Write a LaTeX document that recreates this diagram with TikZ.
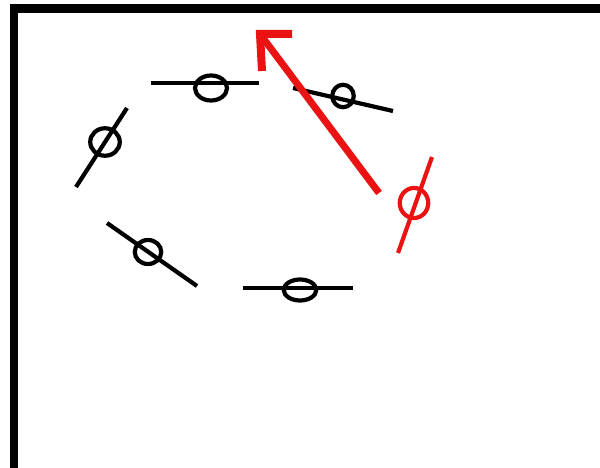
\documentclass[tikz,border=0pt]{standalone}
\usetikzlibrary{shapes.geometric}
\definecolor{penred}{RGB}{234,18,18}
\begin{document}
\begin{tikzpicture}[x=1pt,y=-1pt,
  blk/.style={line width=4.2pt,black},
  rd/.style={line width=4.2pt,penred},
  ring/.style={ellipse,draw,line width=4.2pt,inner sep=0pt}]
\useasboundingbox (0,0) rectangle (600,468);
\fill[white] (0,0) rectangle (600,468);
% frame
\draw[line width=8.5pt] (10,8.5) -- (600,8.5);
\draw[line width=8pt] (14,4.5) -- (14,468);
% top element
\coordinate (a1) at (151,83);
\coordinate (a2) at (259,83);
\draw[blk] (a1) -- (a2);
\node[ring,minimum width=32pt,minimum height=25pt] (e1) at (211,88) {};
% top-right element
\coordinate (b1) at (293,88);
\coordinate (b2) at (393,111);
\draw[blk] (b1) -- (b2);
\node[ring,minimum width=21.5pt,minimum height=22.5pt] (e2) at (343,96) {};
% left element
\coordinate (c1) at (127,108);
\coordinate (c2) at (76,187);
\draw[blk] (c1) -- (c2);
\node[ring,minimum width=29.5pt,minimum height=27.5pt] (e3) at (105,142) {};
% bottom-left element
\coordinate (d1) at (107,223);
\coordinate (d2) at (197,286);
\draw[blk] (d1) -- (d2);
\node[ring,minimum width=26.5pt,minimum height=24pt] (e4) at (148,252) {};
% bottom element
\coordinate (f1) at (243,288);
\coordinate (f2) at (353,288);
\draw[blk] (f1) -- (f2);
\node[ring,minimum width=32.5pt,minimum height=21pt] (e5) at (300,290) {};
% red element
\coordinate (g1) at (432,157);
\coordinate (g2) at (398,253);
\draw[rd] (g1) -- (g2);
\node[ring,draw=penred,minimum width=28.5pt,minimum height=30pt] (e6) at (414,203) {};
% red arrow
\coordinate (s) at (379,193);
\coordinate (t) at (260,34);
\coordinate (h1) at (292,34);
\coordinate (h2) at (262,71);
\draw[line width=7pt,penred] (s) -- (t);
\draw[line width=8pt,penred,line join=miter] (h1) -- (t) -- (h2);
\end{tikzpicture}
\end{document}
